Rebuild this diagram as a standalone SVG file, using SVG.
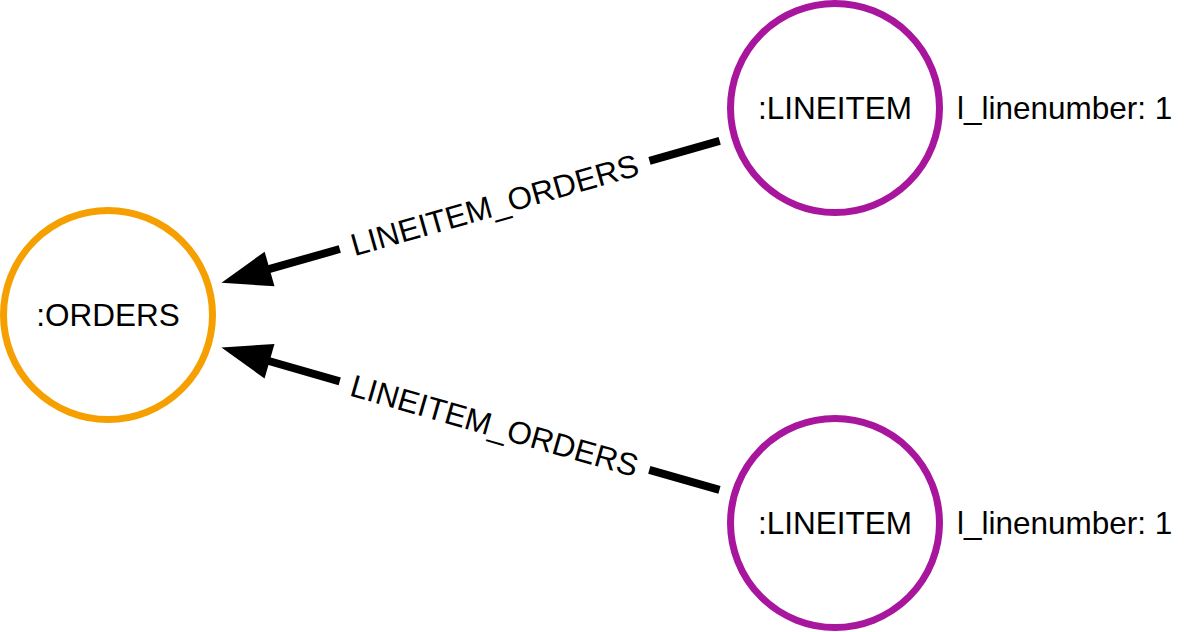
<svg xmlns="http://www.w3.org/2000/svg" width="1184" height="632" viewBox="0 0 1184 632">
  <style>
    .node { fill: #ffffff; stroke-width: 7; }
    .orders { stroke: #F5A000; }
    .lineitem { stroke: #A8169E; }
    .label { font-family: "Liberation Sans", Arial, sans-serif; font-size: 31.5px; fill: #000000; }
    .edge { stroke: #000000; stroke-width: 8; fill: none; }
    .head { fill: #000000; stroke: none; }
  </style>
  <rect x="0" y="0" width="1184" height="632" fill="#ffffff"/>
  <g id="connectors">
    <g id="edge-top" transform="translate(108,315) rotate(-15.894)">
      <line class="edge" x1="160" y1="0" x2="241" y2="0"/>
      <line class="edge" x1="563" y1="0" x2="636" y2="0"/>
      <polygon class="head" points="118,0 168,-18 168,18"/>
      <text class="label" x="402" y="11" text-anchor="middle">LINEITEM_ORDERS</text>
    </g>
    <g id="edge-bottom" transform="translate(108,315) rotate(15.967)">
      <line class="edge" x1="160" y1="0" x2="241" y2="0"/>
      <line class="edge" x1="563" y1="0" x2="636" y2="0"/>
      <polygon class="head" points="118,0 168,-18 168,18"/>
      <text class="label" x="402" y="11" text-anchor="middle">LINEITEM_ORDERS</text>
    </g>
  </g>
  <g id="node-orders">
    <circle class="node orders" cx="108" cy="315" r="104.5"/>
    <text class="label" x="108" y="326" text-anchor="middle">:ORDERS</text>
  </g>
  <g id="node-lineitem-1">
    <circle class="node lineitem" cx="835" cy="108" r="104.5"/>
    <text class="label" x="835" y="119" text-anchor="middle">:LINEITEM</text>
    <text class="label" x="957" y="119">l_linenumber: 1</text>
  </g>
  <g id="node-lineitem-2">
    <circle class="node lineitem" cx="835" cy="523" r="104.5"/>
    <text class="label" x="835" y="534" text-anchor="middle">:LINEITEM</text>
    <text class="label" x="957" y="534">l_linenumber: 1</text>
  </g>
</svg>
